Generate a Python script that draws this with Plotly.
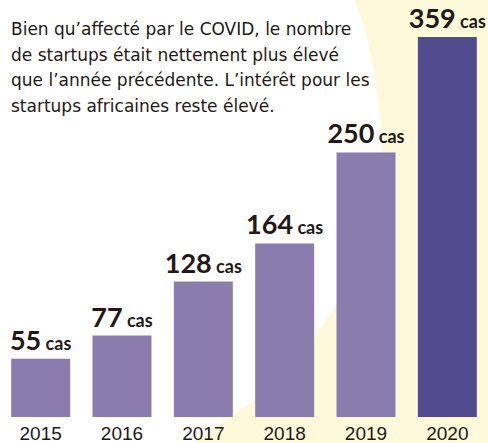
import plotly.graph_objects as go

years = ["2015", "2016", "2017", "2018", "2019", "2020"]
counts = [55, 77, 128, 164, 250, 359]
unit = "cas"
bar_colors = ["#8A7DAE", "#8A7DAE", "#8A7DAE", "#8A7DAE", "#8A7DAE", "#514A8D"]
intro_lines = [
    "Bien qu’affecté par le COVID, le nombre",
    "de startups était nettement plus élevé",
    "que l’année précédente. L’intérêt pour les",
    "startups africaines reste élevé.",
]

W, H = 488, 443
TEXT = "#231815"
YELLOW = "#FFF9DB"

# decorative background curve (pixel coords -> paper)
curve_px = [(355, 0), (364, 25), (370, 50), (375, 75), (378, 100), (381, 125), (382, 150),
            (382, 175), (379, 200), (374, 225), (366, 250), (356, 275), (343, 295),
            (330, 315), (314, 338), (295, 358), (275, 380), (255, 400), (233, 415),
            (213, 428), (195, 443), (W, H), (W, 0)]
def px2paper(x, y):
    return x / W, 1 - y / H
path = "M " + " L ".join("%.4f,%.4f" % px2paper(x, y) for x, y in curve_px) + " Z"

labels = ["<b>%d<span style='font-size:18px'> %s</span></b>" % (v, unit) for v in counts]

fig = go.Figure(go.Bar(
    x=years, y=counts,
    marker=dict(color=bar_colors, line=dict(width=0)),
    text=labels, texttemplate="%{text}", textposition="outside",
    constraintext="none", cliponaxis=False,
    outsidetextfont=dict(family="Lato", size=27, color=TEXT, weight=900),
    hoverinfo="skip",
))

annotations = []
y0 = 29
for i, line in enumerate(intro_lines):
    annotations.append(dict(
        text=line, xref="paper", yref="paper", x=9 / W, y=1 - (y0 + i * 25.5) / H,
        xanchor="left", yanchor="middle", showarrow=False,
        font=dict(family="DejaVu Sans", size=17, color=TEXT),
    ))

fig.update_layout(
    width=W, height=H,
    margin=dict(l=0, r=0, t=0, b=0, autoexpand=False),
    paper_bgcolor="white", plot_bgcolor="rgba(0,0,0,0)",
    bargap=0.275,
    showlegend=False,
    shapes=[dict(type="path", path=path, xref="paper", yref="paper",
                 fillcolor=YELLOW, line=dict(width=0), layer="below")],
    annotations=annotations,
    xaxis=dict(showgrid=False, zeroline=False, showline=False, ticks="",
               tickfont=dict(family="Liberation Sans", size=19, color=TEXT),
               ticklabelstandoff=3, automargin=False, fixedrange=True),
    yaxis=dict(range=[0, 394], domain=[26 / H, 1], visible=False,
               automargin=False, fixedrange=True),
)

fig.write_html("out.html", config={"displayModeBar": False},
               post_script="document.body.style.margin='0';document.body.style.overflow='hidden';")
